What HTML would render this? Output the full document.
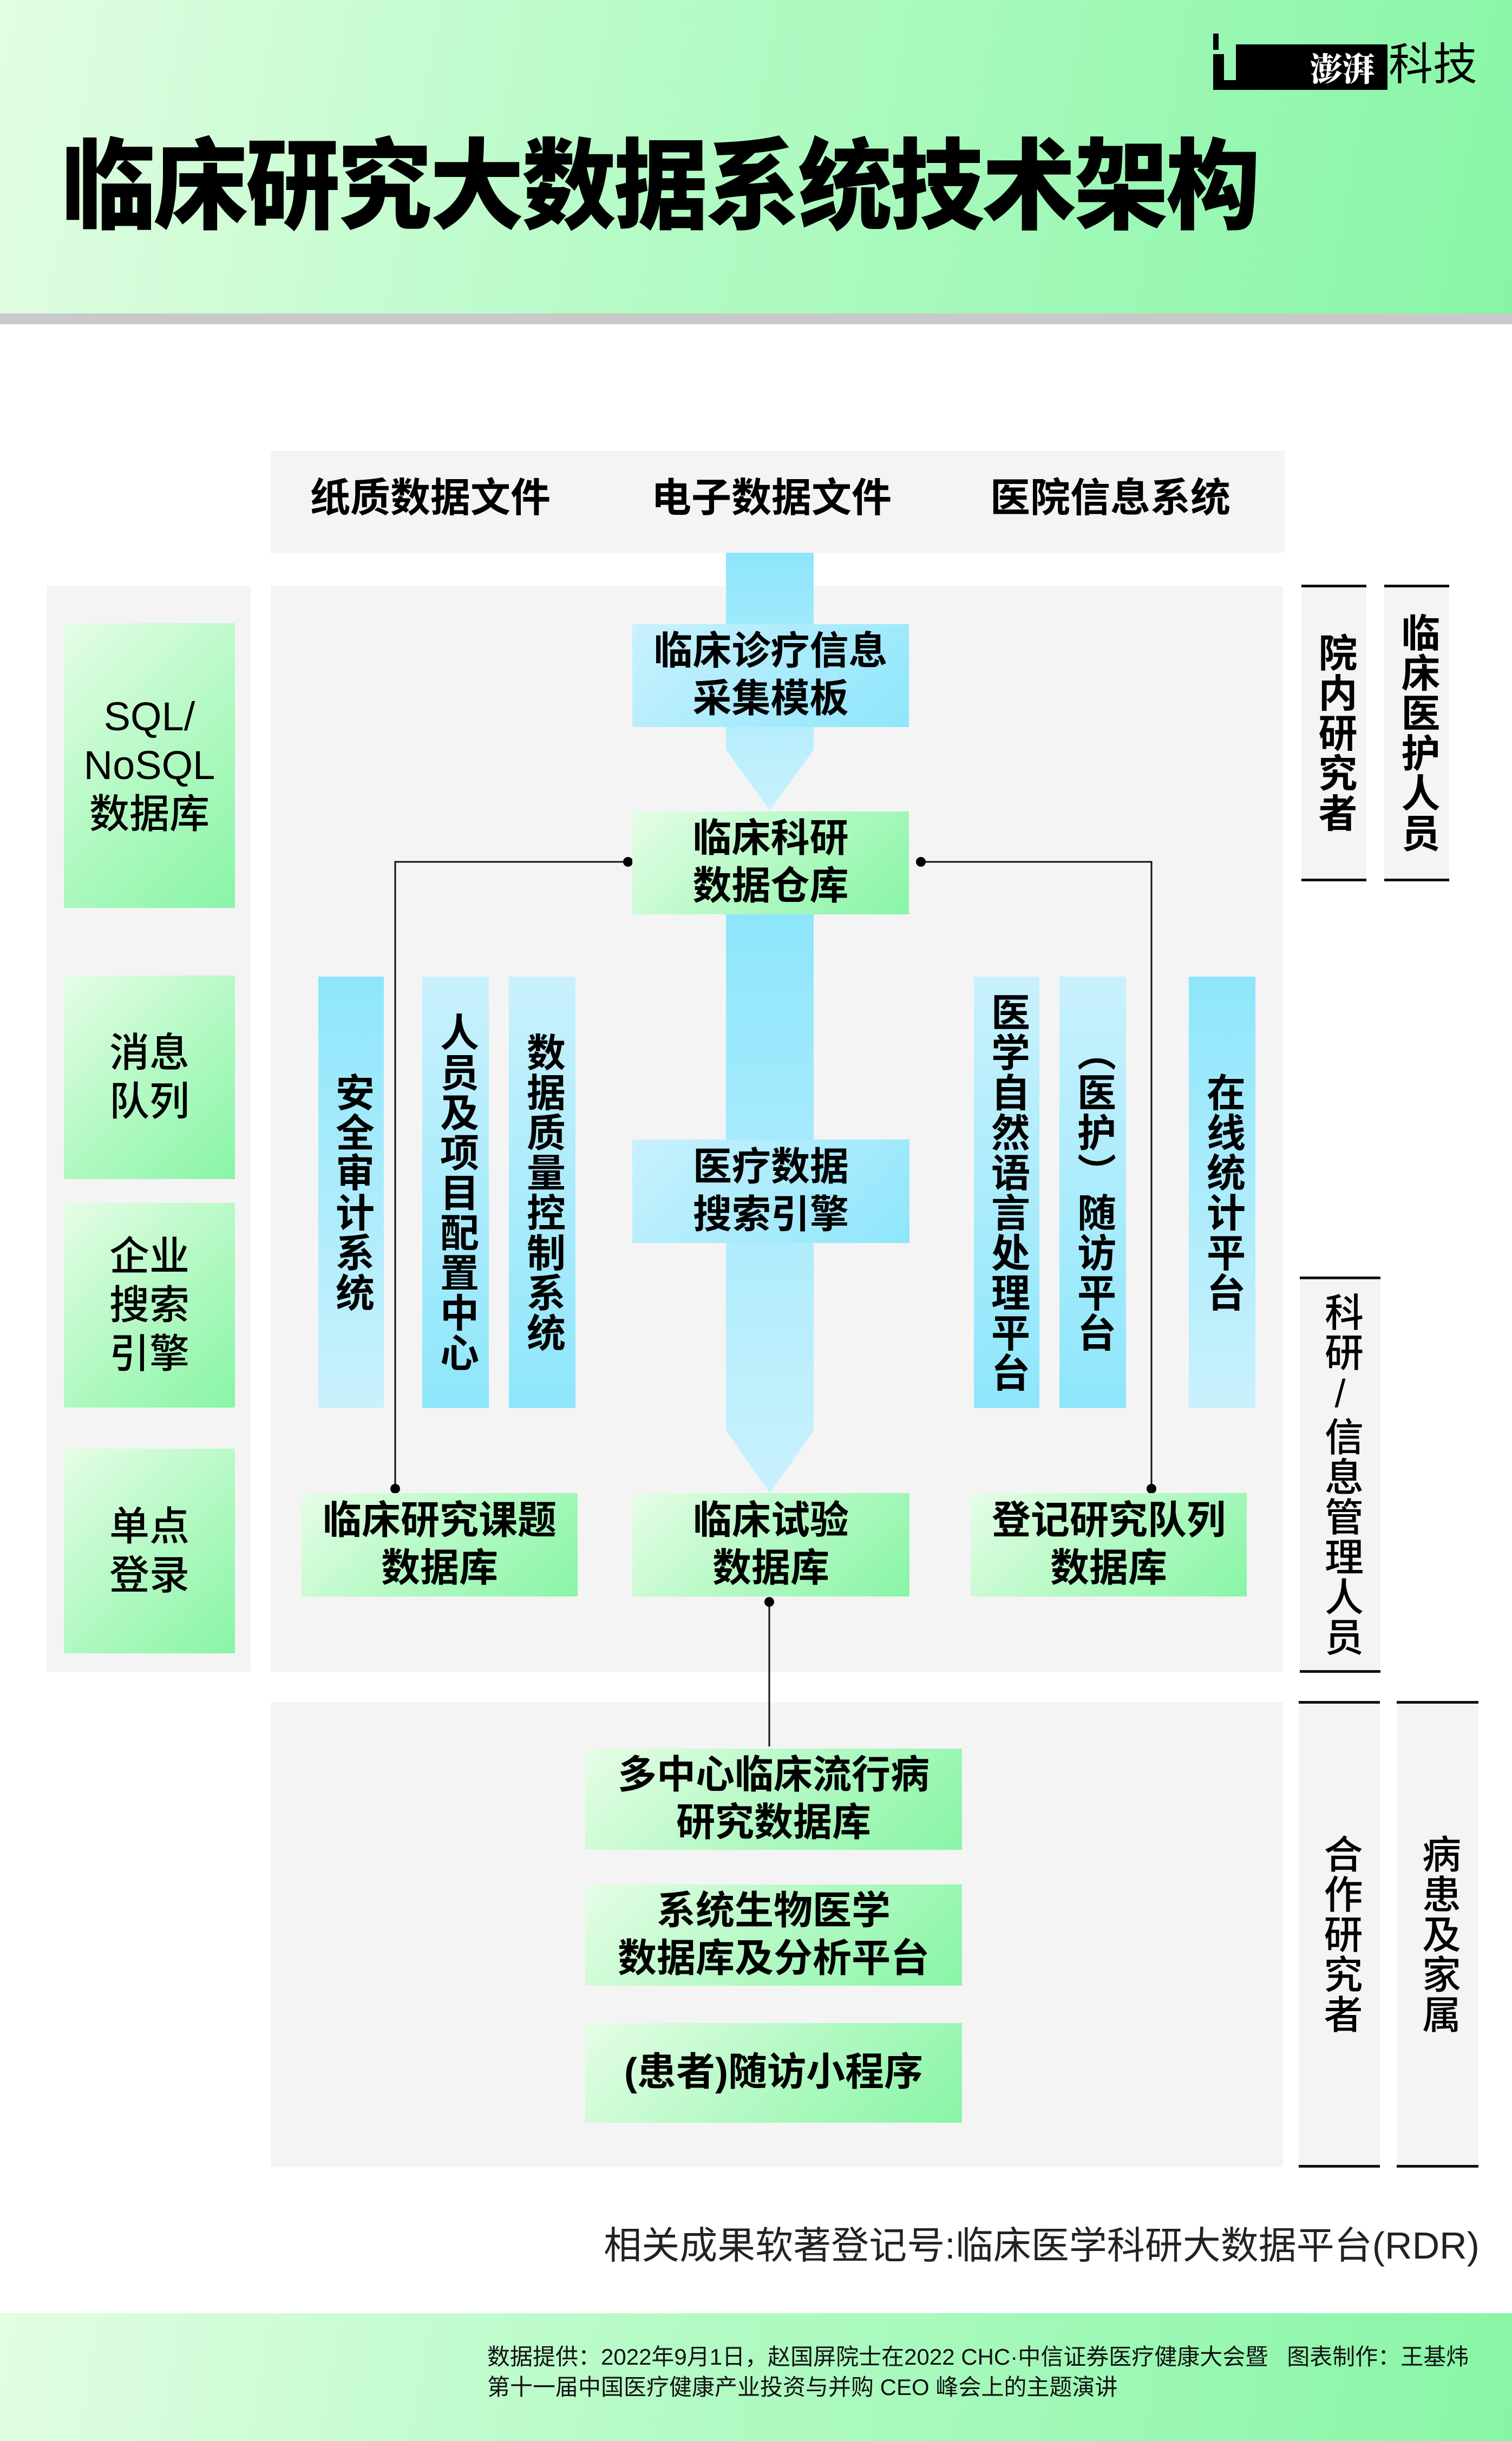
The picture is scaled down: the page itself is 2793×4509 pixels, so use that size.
<!DOCTYPE html>
<html><head><meta charset="utf-8"><style>
*{margin:0;padding:0;box-sizing:border-box}
body{width:2793px;height:4509px;position:relative;background:#fff;overflow:hidden;font-family:"Liberation Sans","Noto Sans CJK SC",sans-serif;color:#000}
.a{position:absolute}
.g{background:linear-gradient(135deg,#e6fde6 0%,#b4f9c4 50%,#88f5a6 100%)}
.c{background:linear-gradient(135deg,#c9f1fd 0%,#8ee6fb 100%)}
.t{display:flex;align-items:center;justify-content:center;text-align:center;font-weight:700;font-size:72px;line-height:1.22}
.v{writing-mode:vertical-rl;text-orientation:upright;font-weight:700;font-size:72px;line-height:1;display:flex;align-items:center;justify-content:center;letter-spacing:2px}
.lab{background:#f4f4f4;border-top:5px solid #111;border-bottom:5px solid #111}
.dot{position:absolute;width:18px;height:18px;border-radius:50%;background:#000}
</style></head><body>
<div class="a" style="left:0;top:0;width:2793px;height:579px;background:linear-gradient(100deg,#e2fde2 0%,#b8fbc8 40%,#88f5a6 100%)"></div>
<div class="a" style="left:0;top:579px;width:2793px;height:20px;background:#c9c9c9"></div>
<div class="a" style="left:114px;top:236px;font-size:174px;font-weight:900;line-height:1.2;white-space:nowrap;letter-spacing:-4px;transform:scaleY(1.05);transform-origin:top left">临床研究大数据系统技术架构</div>
<!-- logo -->
<div class="a" style="left:2241px;top:62px;width:10px;height:30px;background:#000"></div>
<div class="a" style="left:2241px;top:100px;width:20px;height:66px;background:#000"></div>
<div class="a" style="left:2241px;top:148px;width:60px;height:18px;background:#000"></div>
<div class="a" style="left:2283px;top:82px;width:280px;height:84px;background:#000"></div>
<div class="a" style="left:2400px;top:82px;width:160px;height:84px;color:#fff;font-size:60px;font-weight:900;line-height:84px;text-align:center;font-family:'Noto Serif CJK SC',serif">澎湃</div>
<div class="a" style="left:2565px;top:70px;font-size:82px;line-height:100px;white-space:nowrap">科技</div>

<!-- sources -->
<div class="a" style="left:500px;top:833px;width:1873px;height:188px;background:#f4f4f4"></div>
<div class="a" style="left:560px;top:875px;width:470px;font-size:74px;font-weight:700;line-height:90px;text-align:center">纸质数据文件</div>
<div class="a" style="left:1190px;top:875px;width:470px;font-size:74px;font-weight:700;line-height:90px;text-align:center">电子数据文件</div>
<div class="a" style="left:1816px;top:875px;width:470px;font-size:74px;font-weight:700;line-height:90px;text-align:center">医院信息系统</div>

<!-- panels -->
<div class="a" style="left:86px;top:1082px;width:377px;height:2006px;background:#f4f4f4"></div>
<div class="a" style="left:500px;top:1082px;width:1870px;height:2006px;background:#f4f4f4"></div>
<div class="a" style="left:500px;top:3144px;width:1870px;height:858px;background:#f4f4f4"></div>

<!-- left green -->
<div class="a g t" style="left:118px;top:1151px;width:316px;height:526px;font-weight:500;font-size:74px">SQL/<br>NoSQL<br>数据库</div>
<div class="a g t" style="left:118px;top:1802px;width:316px;height:376px;font-weight:500;font-size:74px">消息<br>队列</div>
<div class="a g t" style="left:118px;top:2222px;width:316px;height:378px;font-weight:500;font-size:74px">企业<br>搜索<br>引擎</div>
<div class="a g t" style="left:118px;top:2676px;width:316px;height:378px;font-weight:500;font-size:74px">单点<br>登录</div>

<!-- central column -->
<svg class="a" style="left:0;top:0" width="2793" height="4509">
<defs>
<linearGradient id="cg" x1="0" y1="0" x2="0" y2="1"><stop offset="0" stop-color="#8ee6fb"/><stop offset="1" stop-color="#c9f1fd"/></linearGradient>
</defs>
<path d="M1341 1021 H1503 V1385 L1422 1497 L1341 1385 Z" fill="url(#cg)"/>
<path d="M1341 1689 H1503 V2643 L1422 2758 L1341 2643 Z" fill="url(#cg)"/>
<g stroke="#111" stroke-width="3" fill="none">
<path d="M1160 1592 H730 V2750"/>
<path d="M1701 1592 H2127 V2750"/>
<path d="M1421 2959 V3226"/>
</g>
</svg>
<div class="dot" style="left:1151px;top:1583px"></div>
<div class="dot" style="left:1692px;top:1583px"></div>
<div class="dot" style="left:721px;top:2741px"></div>
<div class="dot" style="left:2118px;top:2741px"></div>
<div class="dot" style="left:1412px;top:2950px"></div>

<div class="a c t" style="left:1168px;top:1153px;width:511px;height:190px;background:linear-gradient(135deg,#c9f1fd,#8ee6fb)">临床诊疗信息<br>采集模板</div>
<div class="a g t" style="left:1168px;top:1499px;width:511px;height:190px">临床科研<br>数据仓库</div>
<div class="a c t" style="left:1168px;top:2105px;width:512px;height:191px">医疗数据<br>搜索引擎</div>
<div class="a g t" style="left:557px;top:2758px;width:510px;height:191px">临床研究课题<br>数据库</div>
<div class="a g t" style="left:1168px;top:2758px;width:512px;height:191px">临床试验<br>数据库</div>
<div class="a g t" style="left:1793px;top:2758px;width:510px;height:191px">登记研究队列<br>数据库</div>

<!-- vertical bars -->
<div class="a v" style="left:588px;top:1804px;width:121px;height:797px;background:linear-gradient(180deg,#8ee6fb,#c9f1fd)">安全审计系统</div>
<div class="a v" style="left:780px;top:1804px;width:123px;height:797px;background:linear-gradient(180deg,#c9f1fd,#8ee6fb)">人员及项目配置中心</div>
<div class="a v" style="left:940px;top:1804px;width:123px;height:797px;background:linear-gradient(180deg,#c9f1fd,#8ee6fb)">数据质量控制系统</div>
<div class="a v" style="left:1799px;top:1804px;width:121px;height:797px;background:linear-gradient(180deg,#c9f1fd,#8ee6fb)">医学自然语言处理平台</div>
<div class="a v" style="left:1957px;top:1804px;width:123px;height:797px;background:linear-gradient(180deg,#c9f1fd,#8ee6fb)">（医护）随访平台</div>
<div class="a v" style="left:2196px;top:1804px;width:123px;height:797px;background:linear-gradient(180deg,#8ee6fb,#c9f1fd)">在线统计平台</div>

<!-- lower -->
<div class="a g t" style="left:1081px;top:3230px;width:696px;height:187px">多中心临床流行病<br>研究数据库</div>
<div class="a g t" style="left:1081px;top:3481px;width:696px;height:187px">系统生物医学<br>数据库及分析平台</div>
<div class="a g t" style="left:1081px;top:3737px;width:696px;height:184px">(患者)随访小程序</div>

<!-- right labels -->
<div class="a v lab" style="left:2404px;top:1080px;width:120px;height:548px">院内研究者</div>
<div class="a v lab" style="left:2557px;top:1080px;width:120px;height:548px">临床医护人员</div>
<div class="a v lab" style="left:2401px;top:2358px;width:149px;height:732px;font-weight:500">科研/信息管理人员</div>
<div class="a v lab" style="left:2399px;top:3142px;width:150px;height:862px;font-weight:500">合作研究者</div>
<div class="a v lab" style="left:2580px;top:3142px;width:151px;height:862px;font-weight:500">病患及家属</div>

<div class="a" style="left:900px;top:4098px;width:1833px;text-align:right;font-size:70px;line-height:100px;white-space:nowrap;color:#222">相关成果软著登记号:临床医学科研大数据平台(RDR)</div>

<div class="a" style="left:0;top:4273px;width:2793px;height:236px;background:linear-gradient(100deg,#e2fde2 0%,#b8fbc8 40%,#88f5a6 100%)"></div>
<div class="a" style="left:900px;top:4326px;font-size:42px;line-height:56px;white-space:nowrap;color:#111">数据提供：2022年9月1日，赵国屏院士在2022 CHC·中信证券医疗健康大会暨&nbsp;&nbsp;&nbsp;图表制作：王基炜<br>第十一届中国医疗健康产业投资与并购 CEO 峰会上的主题演讲</div>
</body></html>
